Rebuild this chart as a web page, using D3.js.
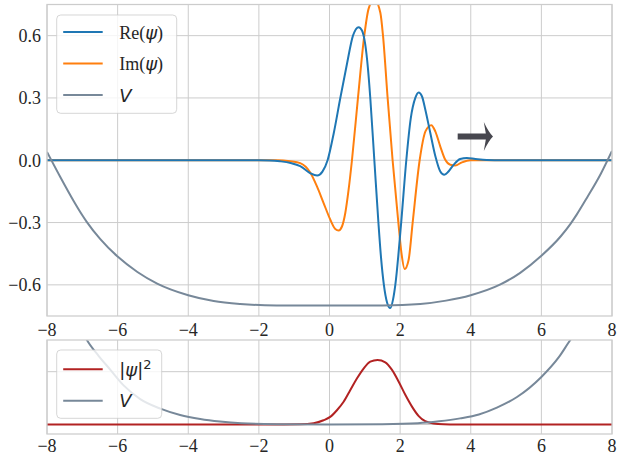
<!DOCTYPE html>
<html><head><meta charset="utf-8">
<script src="https://cdn.jsdelivr.net/npm/d3@7"></script>
<style>
html,body{margin:0;padding:0;background:#fff;}
svg{display:block;}
</style></head>
<body>
<svg id="chart" width="619" height="456"></svg>
<script>
// ---------- data ----------
const xTicks = [-8, -6, -4, -2, 0, 2, 4, 6, 8];
const yTicksTop = [-0.6, -0.3, 0.0, 0.3, 0.6];
const yTicksBottom = [0, 0.5];

const reX = [-8, -3, -2, -1.7, -1.4, -1.1, -0.83, -0.55, -0.35, -0.2, -0.054, 0.12, 0.306, 0.49, 0.665, 0.825, 0.92, 1.01, 1.09, 1.155, 1.27, 1.385, 1.46, 1.54, 1.63, 1.72, 1.80, 1.864, 2.03, 2.175, 2.30, 2.43, 2.524, 2.62, 2.714, 2.855, 3.0, 3.138, 3.25, 3.37, 3.514, 3.70, 3.89, 4.13, 4.45, 4.9, 8];
const reY = [0, 0, 0, -0.001, -0.005, -0.013, -0.028, -0.062, -0.074, -0.055, 0, 0.13, 0.3, 0.46, 0.6, 0.641, 0.625, 0.56, 0.44, 0.3, 0, -0.3, -0.47, -0.6, -0.685, -0.712, -0.67, -0.6, -0.3, 0, 0.2, 0.3, 0.326, 0.307, 0.243, 0.131, 0.018, -0.054, -0.07, -0.054, -0.022, 0.006, 0.011, 0.006, 0.001, 0, 0];

const imX = [-8, -2, -1.5, -1.11, -0.83, -0.55, -0.355, -0.167, 0.023, 0.164, 0.258, 0.353, 0.447, 0.541, 0.636, 0.806, 0.985, 1.108, 1.27, 1.44, 1.515, 1.646, 1.787, 1.95, 2.04, 2.128, 2.241, 2.355, 2.553, 2.72, 2.883, 2.996, 3.138, 3.279, 3.42, 3.56, 3.75, 3.99, 4.5, 8];
const imY = [0, 0, 0, -0.005, -0.014, -0.058, -0.126, -0.206, -0.286, -0.331, -0.338, -0.319, -0.254, -0.142, 0, 0.3, 0.6, 0.73, 0.775, 0.71, 0.6, 0.3, 0, -0.3, -0.45, -0.524, -0.479, -0.3, 0, 0.14, 0.169, 0.139, 0.066, 0.002, -0.022, -0.025, -0.01, 0, 0, 0];

const vX = [-8, -7.62, -7.25, -7.0, -6.87, -6.49, -6.0, -5.44, -4.88, -4.0, -3.28, -2.53, -1.5, 0, 1.5, 2.57, 3.3, 4.0, 4.84, 5.4, 6.0, 6.55, 6.83, 7.0, 7.3, 7.68, 8];
const vY = [0.04, -0.082, -0.195, -0.265, -0.298, -0.38, -0.464, -0.538, -0.594, -0.650, -0.678, -0.692, -0.699, -0.70, -0.699, -0.692, -0.676, -0.650, -0.598, -0.542, -0.460, -0.366, -0.305, -0.262, -0.178, -0.066, 0.045];

const probX = [-8, -1.5, -0.83, -0.45, -0.17, 0.02, 0.21, 0.4, 0.59, 0.78, 0.97, 1.155, 1.36, 1.58, 1.77, 1.96, 2.15, 2.34, 2.52, 2.71, 2.95, 3.23, 3.6, 8];
const probY = [0, 0, 0.002, 0.012, 0.04, 0.072, 0.135, 0.215, 0.326, 0.437, 0.532, 0.595, 0.611, 0.589, 0.517, 0.405, 0.279, 0.167, 0.082, 0.031, 0.01, 0.002, 0, 0];

const vBotX = [-8, -7.5, -7.0, -6.87, -6.54, -6.21, -5.83, -5.36, -4.79, -4.23, -3.66, -3.1, -2.5, -1.5, 0, 1.5, 2.5, 3.1, 3.7, 4.23, 4.74, 5.31, 6.0, 6.5, 6.82, 7.0, 7.5, 8];
const vBotY = [1.75, 1.27, 0.88, 0.80, 0.65, 0.52, 0.37, 0.24, 0.15, 0.09, 0.052, 0.028, 0.012, 0.003, 0, 0.003, 0.012, 0.03, 0.058, 0.095, 0.16, 0.26, 0.45, 0.64, 0.80, 0.88, 1.27, 1.75];

const arrowX = [3.63, 4.37, 4.63];   // tail, head back, tip
const arrowY = [0.114];

const topLegend = ["Re", "Im", "V"];
const bottomLegend = ["prob", "V"];

// ---------- layout ----------
const svg = d3.select("#chart");
const x = d3.scaleLinear().domain([-8, 8]).range([47, 612]);
const yTop = d3.scaleLinear().domain([-0.75, 0.75]).range([316, 4.5]);
const yBot = d3.scaleLinear().domain([-0.09, 0.8]).range([434, 340]);

const C = {re: "#1f77b4", im: "#ff7f0e", v: "#778899", prob: "#b22222", grid: "#cccccc", text: "#262626"};
const serif = "'Liberation Serif', 'Times New Roman', serif";
const sans = "'DejaVu Sans', sans-serif";

const defs = svg.append("defs");
function clip(id, y) {
  defs.append("clipPath").attr("id", id).append("rect")
    .attr("x", x(-8)).attr("y", y.range()[1])
    .attr("width", x(8) - x(-8)).attr("height", y.range()[0] - y.range()[1]);
}
clip("clipTop", yTop);
clip("clipBot", yBot);

function panel(y, yTicks, showYLabels, labelBaseline) {
  const g = svg.append("g");
  g.selectAll(".vg").data(xTicks).enter().append("line")
    .attr("x1", d => x(d)).attr("x2", d => x(d))
    .attr("y1", y.range()[1]).attr("y2", y.range()[0])
    .attr("stroke", C.grid).attr("stroke-width", 1);
  g.selectAll(".hg").data(yTicks).enter().append("line")
    .attr("x1", x(-8)).attr("x2", x(8))
    .attr("y1", d => y(d)).attr("y2", d => y(d))
    .attr("stroke", C.grid).attr("stroke-width", 1);
  const fmtX = d3.format("d");
  g.selectAll(".xl").data(xTicks).enter().append("text")
    .attr("x", d => x(d)).attr("y", labelBaseline)
    .attr("text-anchor", "middle")
    .attr("font-family", serif).attr("font-size", 18).attr("fill", C.text)
    .text(d => fmtX(d));
  if (showYLabels) {
    const fmtY = d3.format(".1f");
    g.selectAll(".yl").data(yTicks).enter().append("text")
      .attr("x", 41).attr("y", d => y(d)).attr("dy", "0.35em")
      .attr("text-anchor", "end")
      .attr("font-family", serif).attr("font-size", 18).attr("fill", C.text)
      .text(d => fmtY(d));
  }
  return g;
}

panel(yTop, yTicksTop, true, 335.5);
panel(yBot, yTicksBottom, false, 451.5);

function drawLine(xs, ys, y, color, clipId) {
  const line = d3.line().x(d => x(d[0])).y(d => y(d[1])).curve(d3.curveMonotoneX);
  svg.append("path")
    .datum(d3.zip(xs, ys))
    .attr("d", line)
    .attr("fill", "none").attr("stroke", color).attr("stroke-width", 2)
    .attr("stroke-linejoin", "round").attr("stroke-linecap", "butt")
    .attr("clip-path", `url(#${clipId})`);
}

drawLine(imX, imY, yTop, C.im, "clipTop");
drawLine(reX, reY, yTop, C.re, "clipTop");
drawLine(vX, vY, yTop, C.v, "clipTop");

drawLine(probX, probY, yBot, C.prob, "clipBot");
drawLine(vBotX, vBotY, yBot, C.v, "clipBot");

// arrow annotation
{
  const xt = x(arrowX[0]), xb = x(arrowX[1]), xp = x(arrowX[2]), yc = yTop(arrowY[0]);
  const sh = 3, hh = 14.5;
  const p = d3.path();
  p.moveTo(xt, yc - sh);
  p.lineTo(xb + 2, yc - sh);
  p.lineTo(xb, yc - hh);
  p.quadraticCurveTo(xb + 5, yc - 4, xp, yc);
  p.quadraticCurveTo(xb + 5, yc + 4, xb, yc + hh);
  p.lineTo(xb + 2, yc + sh);
  p.lineTo(xt, yc + sh);
  p.closePath();
  svg.append("path").attr("d", p.toString()).attr("fill", "#47474f");
}

// legends
function legend(box, items) {
  const g = svg.append("g");
  g.append("rect").attr("x", box.x).attr("y", box.y).attr("width", box.w).attr("height", box.h)
    .attr("rx", 4).attr("fill", "#ffffff").attr("fill-opacity", 0.8)
    .attr("stroke", "#cccccc").attr("stroke-opacity", 0.8).attr("stroke-width", 1);
  items.forEach((it, i) => {
    const yy = box.y + box.first + i * 31.5;
    g.append("line").attr("x1", box.x + 6.5).attr("x2", box.x + 46)
      .attr("y1", yy).attr("y2", yy).attr("stroke", it.color).attr("stroke-width", 2);
    const t = g.append("text").attr("x", box.x + 62.5).attr("y", yy + 6.5)
      .attr("font-size", 18).attr("fill", C.text);
    it.parts.forEach(pt => {
      const s = t.append("tspan").attr("font-family", pt.f).text(pt.t);
      if (pt.i) s.attr("font-style", "italic");
      if (pt.sup) s.attr("font-size", 13).attr("baseline-shift", "super");
    });
  });
}

const labels = {
  Re: {color: C.re, parts: [{t: "Re(", f: serif}, {t: "ψ", f: sans, i: true}, {t: ")", f: serif}]},
  Im: {color: C.im, parts: [{t: "Im(", f: serif}, {t: "ψ", f: sans, i: true}, {t: ")", f: serif}]},
  V: {color: C.v, parts: [{t: "V", f: sans, i: true}]},
  prob: {color: C.prob, parts: [{t: "|", f: sans}, {t: "ψ", f: sans, i: true}, {t: "|", f: sans}, {t: "2", f: sans, sup: true}]}
};

legend({x: 56.7, y: 15, w: 120, h: 98.3, first: 17}, topLegend.map(k => labels[k]));
legend({x: 56.7, y: 350, w: 105, h: 68.3, first: 19.3}, bottomLegend.map(k => labels[k]));

// spines
[yTop, yBot].forEach(y => {
  svg.append("rect").attr("x", x(-8)).attr("y", y.range()[1])
    .attr("width", x(8) - x(-8)).attr("height", y.range()[0] - y.range()[1])
    .attr("fill", "none").attr("stroke", C.grid).attr("stroke-width", 1.25);
});
</script>
</body></html>
